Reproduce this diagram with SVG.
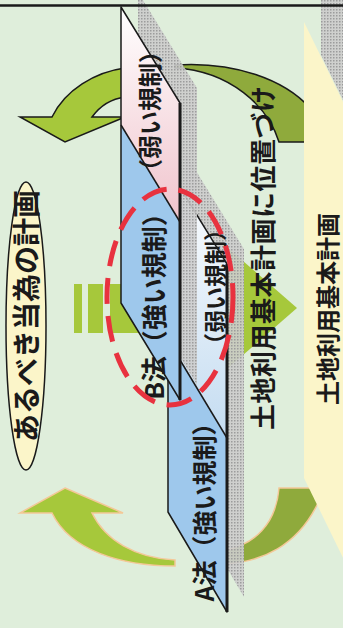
<svg xmlns="http://www.w3.org/2000/svg" width="343" height="628" viewBox="0 0 343 628">
<style>
.t{font-family:"Noto Sans CJK JP","Noto Sans",sans-serif;font-weight:bold;fill:#1a1a1a;text-anchor:middle;dominant-baseline:central}
.edge{fill:none;stroke:#1a1a1a;stroke-width:1.5;stroke-linejoin:round}
.thick{stroke:#1a1a1a;stroke-width:3}
.blue{fill:#9EC8EC}
.shadow{fill:url(#hatch)}
.brightArrow{fill:#A6C83B}
.oliveArrow{fill:#8FAA3C}
</style>
<defs>
<pattern id="hatch" width="3" height="3" patternUnits="userSpaceOnUse">
<rect width="3" height="3" fill="#CDCDCD" fill-opacity="0.9"/>
<rect width="1.5" height="1.5" fill="#9C9C9C"/>
</pattern>
<linearGradient id="gPink" x1="0" y1="0" x2="0" y2="1">
<stop offset="0" stop-color="#FFFFFF"/>
<stop offset="1" stop-color="#F0C3CC"/>
</linearGradient>
<linearGradient id="gLightBlue" x1="0" y1="0" x2="0" y2="1">
<stop offset="0" stop-color="#FFFFFF"/>
<stop offset="1" stop-color="#C4DCF1"/>
</linearGradient>
</defs>

<rect width="343" height="628" fill="#DFEEDB"/>

<g id="panel">
<polygon class="shadow" points="321,0 350,0 350,100 343,100 321,55"/>
</g>

<g id="connectors">
<path class="oliveArrow" stroke="#1a1a1a" stroke-width="1.5" d="M175,65 C235,61 285,80 310,108 L310,142 L279,142 C268,106 230,71 175,68 Z"/>
<path class="brightArrow" stroke="#1a1a1a" stroke-width="1.5" stroke-linejoin="miter" d="M125,68 C95,72 65,90 52,117 L20,117 L65,142 L125,117 L92,117 C100,106 110,99 125,97 Z"/>
<path class="oliveArrow" stroke="#F4C898" stroke-width="1.5" d="M222,551 C255,545 276,524 279,488 L312,488 L318,503 C298,545 262,563 222,564 Z"/>
<path class="brightArrow" stroke="#F4C898" stroke-width="1.5" d="M65,488 L123,513 L92,513 C105,540 135,558 175,560 L175,566 C120,566 70,550 52,513 L20,513 Z"/>
<g class="brightArrow">
<rect x="74" y="284" width="8" height="49"/>
<rect x="88" y="284" width="15" height="49"/>
<rect x="110" y="284" width="125" height="49"/>
<polygon points="228,248 297,308 228,368"/>
</g>
</g>

<g id="panelFront">
<polygon points="304,22 350,116 350,572 304,478" fill="#FBF5C9"/>
<text class="t" font-size="24" transform="translate(326,309) rotate(-90)">土地利用基本計画</text>
</g>

<g id="cardA">
<polygon class="shadow" points="185,153 244,249 244,597 185,497"/>
<polygon points="168,168 227,264 227,438 168,340" fill="url(#gLightBlue)"/>
<polygon class="blue" points="168,340 227,438 227,612 168,512"/>
<polygon class="edge" points="168,168 227,264 227,612 168,512"/>
<line class="edge" x1="168" y1="340" x2="227" y2="438"/>
<line class="thick" x1="227" y1="264" x2="227" y2="612"/>
<text class="t" font-size="23" transform="translate(214,287) rotate(-90)">（弱い規制）</text>
<text class="t" font-size="25" transform="translate(203,506) rotate(-90)">A法（強い規制）</text>
</g>

<g id="cardB">
<polygon class="shadow" points="138,-8 197,88 197,385 138,288"/>
<polygon points="121,7 180,103 180,222 121,125" fill="url(#gPink)"/>
<polygon class="blue" points="121,125 180,222 180,400 121,303"/>
<polygon class="edge" points="121,7 180,103 180,400 121,303"/>
<line class="edge" x1="121" y1="125" x2="180" y2="222"/>
<line class="thick" x1="180" y1="103" x2="180" y2="400"/>
<text class="t" font-size="24" transform="translate(148,111) rotate(-90)">（弱い規制）</text>
<text class="t" font-size="26" transform="translate(152,300) rotate(-90)">B法（強い規制）</text>
</g>

<g id="label">
<text class="t" font-size="26" textLength="344" transform="translate(261,258) rotate(-90)">土地利用基本計画に位置づけ</text>
</g>

<g id="focus">
<ellipse cx="170" cy="297" rx="63" ry="108" fill="none" stroke="#E8323F" stroke-width="5" stroke-dasharray="26 12"/>
</g>

<g id="ideal">
<ellipse cx="26" cy="326" rx="20" ry="144" fill="#FBF5C9" stroke="#1a1a1a" stroke-width="1.5"/>
<text class="t" font-size="28" transform="translate(25,316) rotate(-90)">あるべき当為の計画</text>
</g>

<line x1="0" y1="5.5" x2="343" y2="5.5" stroke="#1a1a1a" stroke-width="2.5"/>
</svg>
